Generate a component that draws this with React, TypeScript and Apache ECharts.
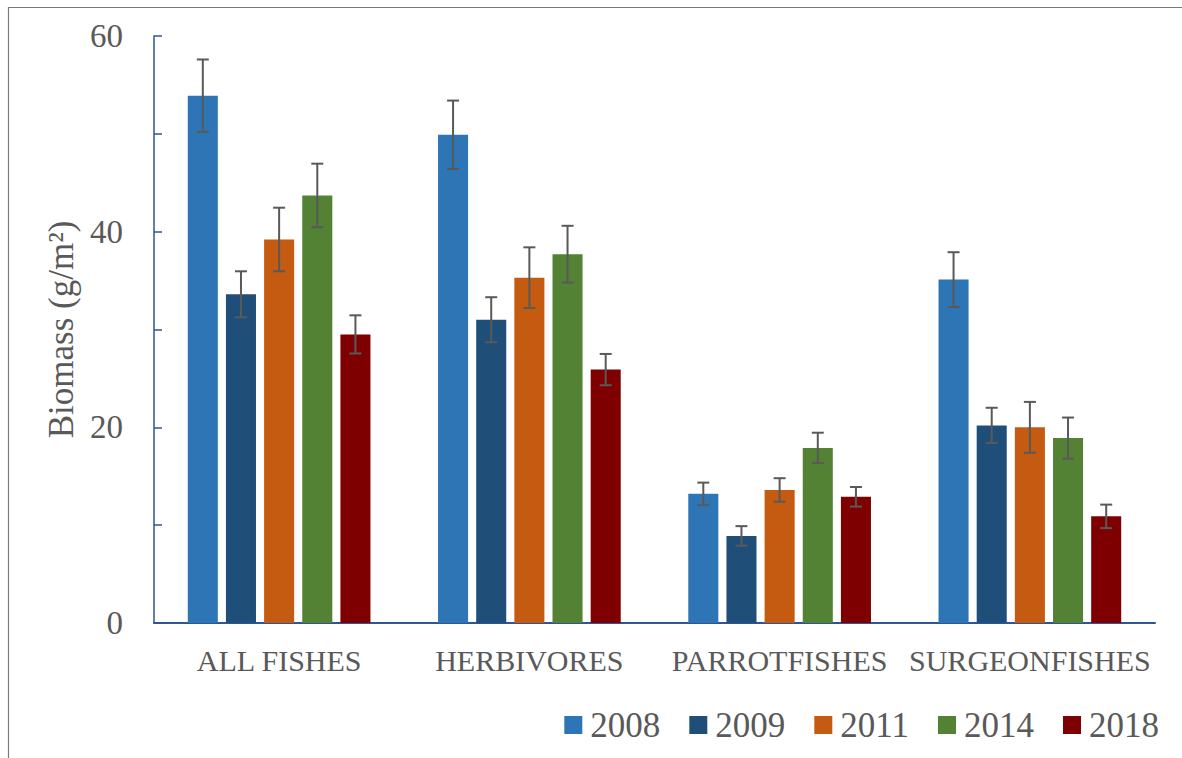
import React, { useEffect, useRef } from "react";
import * as echarts from "echarts";

const categories = ["ALL FISHES", "HERBIVORES", "PARROTFISHES", "SURGEONFISHES"];
const years = ["2008", "2009", "2011", "2014", "2018"];
const colors = ["#2E75B6", "#1F4E79", "#C55A11", "#548235", "#7F0000"];

const values2008 = [53.9, 49.9, 13.2, 35.1];
const values2009 = [33.6, 31.0, 8.9, 20.2];
const values2011 = [39.2, 35.3, 13.6, 20.0];
const values2014 = [43.7, 37.7, 17.9, 18.9];
const values2018 = [29.5, 25.9, 12.9, 10.9];

const err2008 = [3.7, 3.5, 1.15, 2.8];
const err2009 = [2.35, 2.3, 1.0, 1.8];
const err2011 = [3.25, 3.1, 1.2, 2.6];
const err2014 = [3.25, 2.9, 1.55, 2.1];
const err2018 = [1.95, 1.6, 1.0, 1.2];

const yTicks = [0, 20, 40, 60];

const allValues = [values2008, values2009, values2011, values2014, values2018];
const allErrors = [err2008, err2009, err2011, err2014, err2018];

const FONT = "'Liberation Serif', 'Times New Roman', serif";
const TEXT = "#595959";
const AXIS = "#2F5597";
const CAT_GAP = 0.27;
const BAR_GAP = 0.27;

export default function App() {
  const ref = useRef<HTMLDivElement>(null);
  useEffect(() => {
    if (!ref.current) return;
    const chart = echarts.init(ref.current, null, { renderer: "svg" });
    const n = years.length;

    const barSeries = years.map((y, i) => ({
      name: y,
      type: "bar",
      data: allValues[i],
      barGap: BAR_GAP * 100 + "%",
      barCategoryGap: CAT_GAP * 100 + "%",
      itemStyle: { color: colors[i] },
      z: 2,
    }));

    const errSeries = years.map((y, i) => ({
      name: "err" + y,
      type: "custom",
      z: 5,
      data: allValues[i].map((v, j) => [j, v - allErrors[i][j], v + allErrors[i][j]]),
      renderItem: (params: any, api: any) => {
        const cat = api.value(0);
        const lo = api.coord([cat, api.value(1)]);
        const hi = api.coord([cat, api.value(2)]);
        const band = api.size([1, 0])[0];
        const remained = band * (1 - CAT_GAP);
        const bw = remained / (n + (n - 1) * BAR_GAP);
        const total = n * bw + (n - 1) * bw * BAR_GAP;
        const x = lo[0] - total / 2 + i * bw * (1 + BAR_GAP) + bw / 2;
        const cap = 6;
        const style = { stroke: "#595959", lineWidth: 2, fill: null };
        return {
          type: "group",
          children: [
            { type: "line", shape: { x1: x, y1: lo[1], x2: x, y2: hi[1] }, style },
            { type: "line", shape: { x1: x - cap, y1: hi[1], x2: x + cap, y2: hi[1] }, style },
            { type: "line", shape: { x1: x - cap, y1: lo[1], x2: x + cap, y2: lo[1] }, style },
          ],
        };
      },
    }));

    chart.setOption({
      animation: false,
      backgroundColor: "#ffffff",
      graphic: [
        {
          type: "rect",
          shape: { x: 8.5, y: 7.5, width: 1200, height: 800 },
          style: { fill: null, stroke: "#7a7a7a", lineWidth: 1.2 },
          silent: true,
        },
      ],
      grid: { left: 154, top: 36, right: 27, bottom: 135, containLabel: false },
      legend: {
        data: years,
        right: 23,
        top: 707,
        padding: 0,
        icon: "rect",
        itemWidth: 18,
        itemHeight: 18,
        itemGap: 29,
        textStyle: {
          fontFamily: FONT,
          fontSize: 35,
          color: TEXT,
          lineHeight: 36,
          padding: [0, 0, 0, 3],
        },
      },
      xAxis: {
        type: "category",
        data: categories,
        axisLine: { lineStyle: { color: AXIS, width: 2 } },
        axisTick: { show: false },
        axisLabel: { fontFamily: FONT, fontSize: 30, color: TEXT, margin: 22, interval: 0 },
      },
      yAxis: {
        type: "value",
        min: 0,
        max: 60,
        interval: 10,
        name: "Biomass (g/m²)",
        nameLocation: "middle",
        nameGap: 72,
        nameTextStyle: { fontFamily: FONT, fontSize: 35, color: TEXT },
        axisLine: { show: true, lineStyle: { color: AXIS, width: 1.5 } },
        axisTick: { show: true, inside: true, length: 8, lineStyle: { color: AXIS, width: 1.5 } },
        splitLine: { show: false },
        axisLabel: {
          fontFamily: FONT,
          fontSize: 33,
          color: TEXT,
          margin: 31,
          formatter: (v: number) => (yTicks.indexOf(v) >= 0 ? String(v) : ""),
        },
      },
      series: [...barSeries, ...errSeries],
    });
    return () => chart.dispose();
  }, []);
  return (
    <div
      ref={ref}
      style={{ position: "absolute", left: 0, top: 0, width: 1182, height: 758 }}
    />
  );
}
